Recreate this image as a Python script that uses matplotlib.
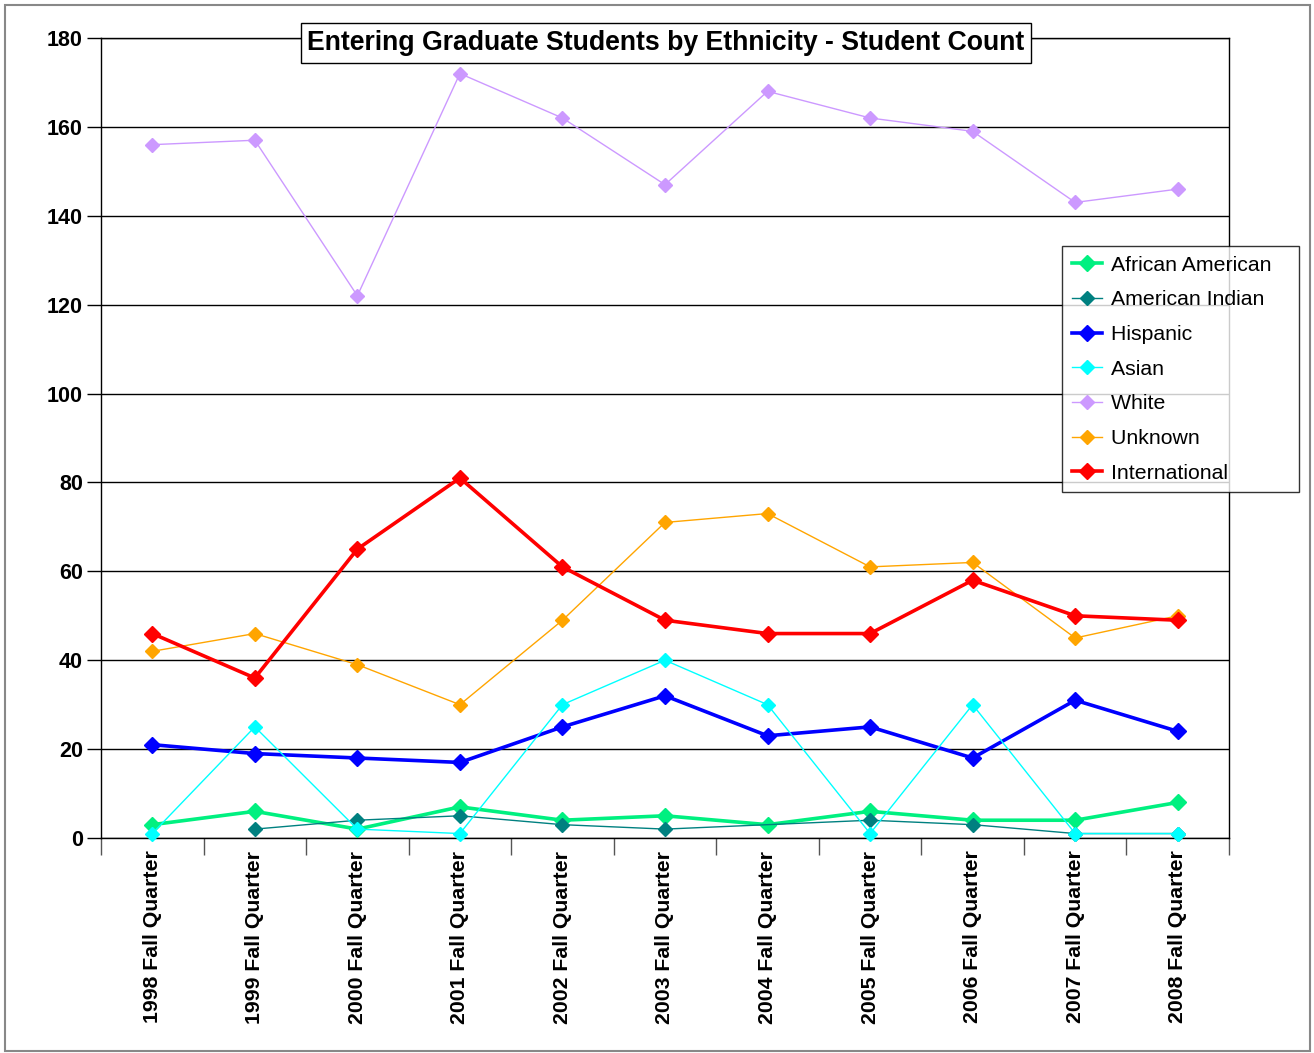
import matplotlib
matplotlib.use("Agg")
import matplotlib.pyplot as plt
from matplotlib.patches import Rectangle
import numpy as np

plt.rcParams['font.family'] = ['Liberation Sans', 'DejaVu Sans']

years = ["1998", "1999", "2000", "2001", "2002", "2003", "2004", "2005", "2006", "2007", "2008"]
categories = [y + " Fall Quarter" for y in years]

african_american = [3, 6, 2, 7, 4, 5, 3, 6, 4, 4, 8]
american_indian = [np.nan, 2, 4, 5, 3, 2, np.nan, 4, 3, 1, 1]
hispanic = [21, 19, 18, 17, 25, 32, 23, 25, 18, 31, 24]
asian = [1, 25, 2, 1, 30, 40, 30, 1, 30, 1, 1]
white = [156, 157, 122, 172, 162, 147, 168, 162, 159, 143, 146]
unknown = [42, 46, 39, 30, 49, 71, 73, 61, 62, 45, 50]
international = [46, 36, 65, 81, 61, 49, 46, 46, 58, 50, 49]

series = [
    ("African American", african_american, "#00F080", 2.6, 10),
    ("American Indian", american_indian, "#008080", 1.0, 8),
    ("Hispanic", hispanic, "#0000FF", 2.6, 10),
    ("Asian", asian, "#00FFFF", 1.0, 8),
    ("White", white, "#CC99FF", 1.0, 8),
    ("Unknown", unknown, "#FFA500", 1.0, 8),
    ("International", international, "#FF0000", 2.6, 10),
]

fig = plt.figure(figsize=(13.14, 10.53), dpi=100)
ax = fig.add_axes([101 / 1314, 1 - 838 / 1053, 1128 / 1314, 800 / 1053])

x = np.arange(len(categories))
for name, vals, color, lw, ms in series:
    vals = np.asarray(vals, dtype=float)
    mask = ~np.isnan(vals)
    ax.plot(x[mask], vals[mask], color=color, lw=lw, marker="D", ms=ms * 0.85,
            markeredgecolor=color, label=name, clip_on=False, zorder=3)

ax.set_xlim(-0.5, len(categories) - 0.5)
ax.set_ylim(0, 180)
ax.set_yticks(np.arange(0, 181, 20))
ax.yaxis.grid(True, color="black", lw=1)
ax.set_axisbelow(True)

# category labels centred, tick marks on the boundaries
ax.set_xticks(np.arange(-0.5, len(categories), 1))
ax.set_xticklabels([])
ax.tick_params(axis="x", length=12, width=1, color="#555555")
ax.set_xticks(x, minor=True)
ax.set_xticklabels(categories, minor=True, rotation=90, fontsize=15.3, fontweight="bold")
ax.tick_params(axis="x", which="minor", length=0, pad=9)
ax.tick_params(axis="y", length=10, width=1, labelsize=15.5, pad=3)
for lab in ax.get_yticklabels():
    lab.set_fontweight("bold")

for sp in ax.spines.values():
    sp.set_color("black")
    sp.set_linewidth(1)

fig.text(666 / 1314, 1 - 43 / 1053, "Entering Graduate Students by Ethnicity - Student Count",
         fontsize=19.2, fontweight="bold", ha="center", va="center",
         bbox=dict(facecolor="white", edgecolor="black", boxstyle="square,pad=0.25", lw=1))

# trailing spaces give the legend box the extra room on the right
leg = ax.legend([h for h in ax.get_lines()], [s[0] + "   " for s in series],
                loc="upper left", bbox_to_anchor=(1062 / 1314, 1 - 246 / 1053),
                bbox_transform=fig.transFigure, fontsize=15.3, frameon=True, fancybox=False,
                edgecolor="black", borderpad=0.45, labelspacing=0.74, handlelength=1.45,
                handletextpad=0.4, borderaxespad=0)
leg.get_frame().set_linewidth(1)

fig.patches.append(Rectangle((5 / 1314, 2 / 1053), 1305 / 1314, 1046 / 1053,
                             transform=fig.transFigure, fill=False, edgecolor="#888888", lw=1.5))

fig.savefig("out.png", dpi=100)
